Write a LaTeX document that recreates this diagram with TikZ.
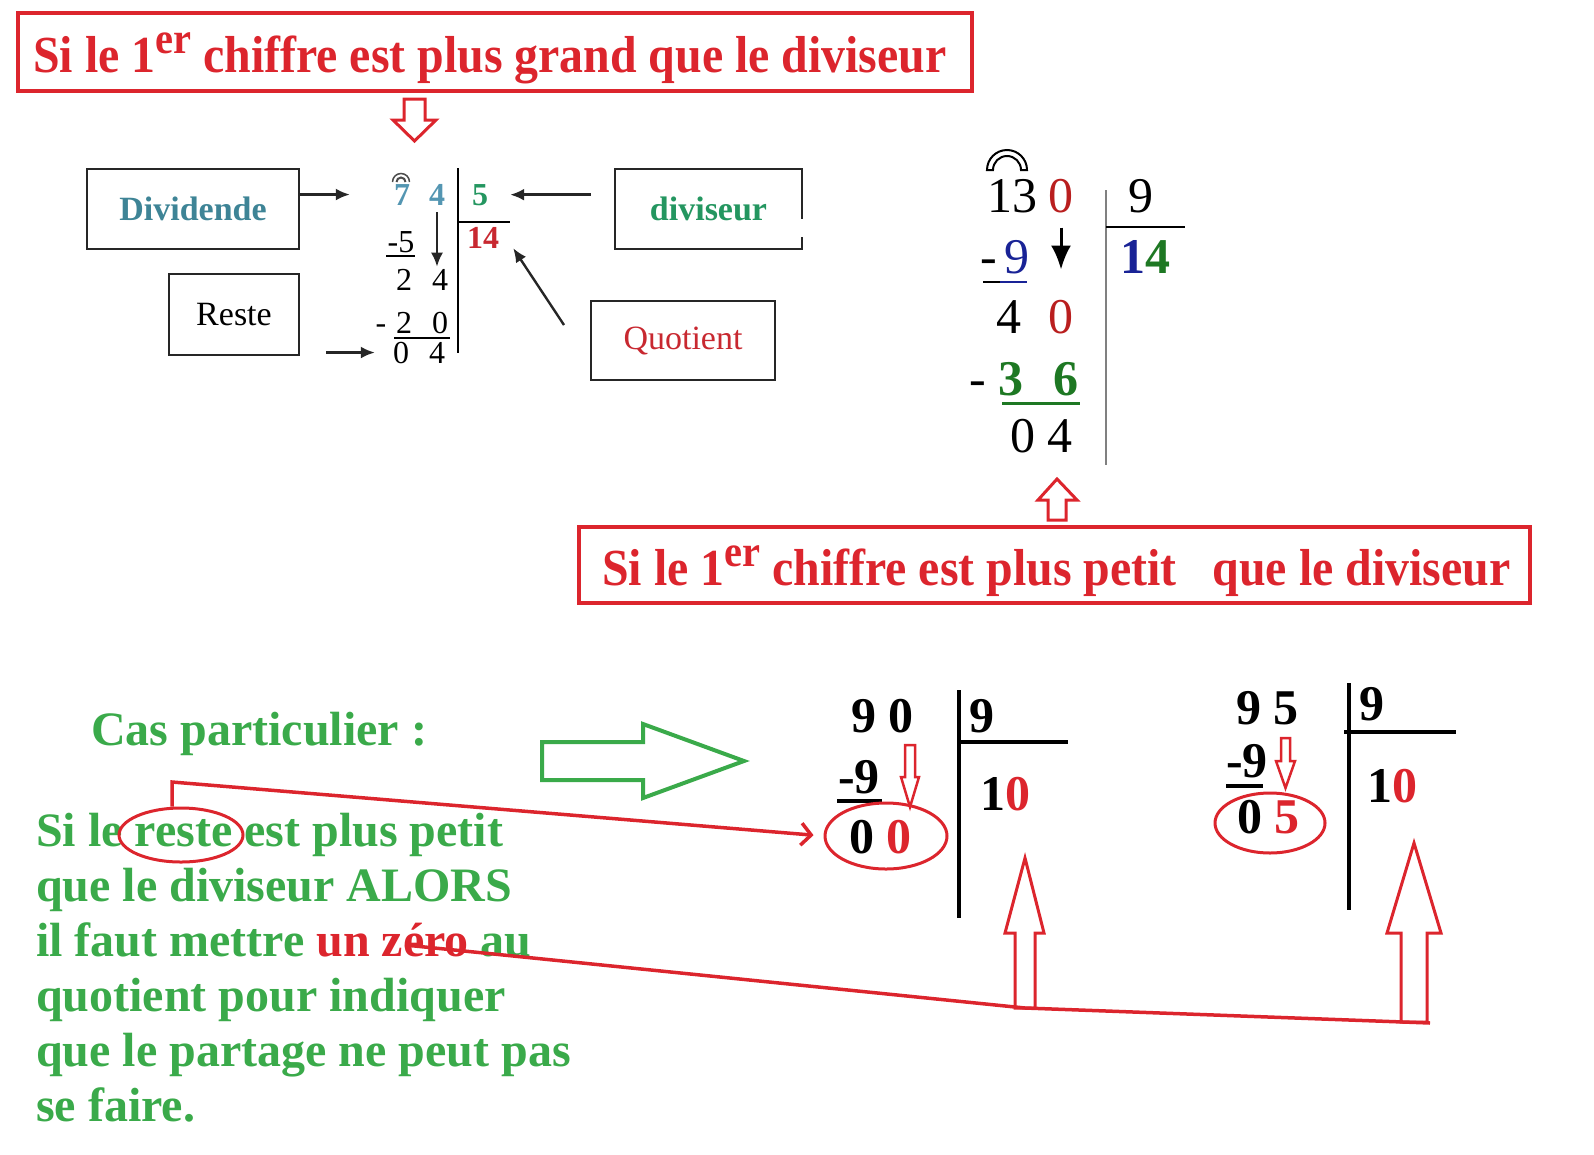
\documentclass[tikz,border=0pt]{standalone}
\usepackage{fontspec}
\setmainfont{Liberation Serif}
\newfontfamily\headfont[FakeStretch=0.92]{Liberation Serif}
\usepackage{xcolor}
\usepackage{tikz}
\usetikzlibrary{shapes,arrows,arrows.meta,positioning}

\definecolor{alertred}{RGB}{220,37,45}
\definecolor{casgreen}{RGB}{58,170,74}
\definecolor{dividteal}{RGB}{62,132,150}
\definecolor{digitteal}{RGB}{84,150,178}
\definecolor{divgreen}{RGB}{36,150,96}
\definecolor{quotred}{RGB}{200,40,48}
\definecolor{darkblue}{RGB}{25,35,150}
\definecolor{darkgreen}{RGB}{30,120,35}
\definecolor{darkred}{RGB}{185,30,30}
\definecolor{bargray}{RGB}{128,128,128}

\begin{document}
\begin{tikzpicture}[
    x=1pt, y=-1pt,
    redframe/.style={draw=alertred, line width=4pt, inner sep=0pt},
    headtext/.style={anchor=base west, inner sep=0pt, text=alertred,
        font=\headfont\fontsize{52}{52}\selectfont\bfseries},
    labelbox/.style={draw=black!85, line width=2.2pt, inner sep=0pt,
        font=\fontsize{34}{34}\selectfont},
    smalldigit/.style={anchor=base, inner sep=0pt, font=\fontsize{32}{32}\selectfont},
    middigit/.style={anchor=base, inner sep=0pt, font=\fontsize{50}{50}\selectfont},
    bolddigit/.style={anchor=base west, inner sep=0pt, font=\fontsize{50}{50}\selectfont\bfseries},
    casline/.style={anchor=base west, inner sep=0pt, text=casgreen,
        font=\fontsize{48}{55}\selectfont\bfseries},
    thinarrow/.style={-{Latex[length=14pt,width=12pt]}, line width=2.4pt, draw=black!85},
    hollowred/.style={draw=alertred, line width=3pt},
    redline/.style={draw=alertred, line width=3.5pt},
    ]
    \useasboundingbox (0,0) rectangle (1594,1154);

    % headers
    \node[redframe, minimum width=954, minimum height=78] (topframe) at (495,52) {};
    \node[headtext] (toptext) at (33,72)
        {Si le 1\raisebox{19pt}{\fontsize{44}{44}\selectfont er} chiffre est plus grand que le diviseur};
    \draw[hollowred] (404,99) -- (425,99) -- (425,120) -- (436,120) -- (414.5,141)
        -- (393,120) -- (404,120) -- cycle;

    \node[redframe, minimum width=951, minimum height=76] (lowframe) at (1054.5,565) {};
    \node[headtext] (lowtext) at (602,585)
        {Si le 1\raisebox{19pt}{\fontsize{44}{44}\selectfont er} chiffre est plus petit\hspace{24pt} que le diviseur};
    \draw[hollowred] (1048,520) -- (1066,520) -- (1066,500) -- (1077,500) -- (1057,479)
        -- (1038,500) -- (1048,500) -- cycle;

    % labelled boxes
    \node[labelbox, minimum width=212, minimum height=80, text=dividteal,
        font=\fontsize{34}{34}\selectfont\bfseries] (dividbox) at (193,209) {Dividende};
    \node[labelbox, minimum width=130, minimum height=81] (restebox) at (234,314.5) {Reste};
    \node[labelbox, minimum width=187, minimum height=80, text=divgreen,
        font=\fontsize{34}{34}\selectfont\bfseries] (divisbox) at (708.5,209) {diviseur};
    \draw[white, line width=4pt] ([yshift=-10pt]divisbox.east) -- ([yshift=-28pt]divisbox.east);
    \node[labelbox, minimum width=184, minimum height=79, text=quotred] (quotbox) at (683,340.5) {Quotient};

    % 74 : 5
    \node[smalldigit, text=digitteal, font=\fontsize{32}{32}\selectfont\bfseries] (tlseven) at (402,205) {7};
    \node[smalldigit, text=digitteal, font=\fontsize{32}{32}\selectfont\bfseries] (tlfour) at (437,205) {4};
    \node[smalldigit, text=divgreen, font=\fontsize{32}{32}\selectfont\bfseries] (tlfive) at (480,205) {5};
    \node[smalldigit, text=quotred, font=\fontsize{32}{32}\selectfont\bfseries] (tlquot) at (483,248) {14};
    \node[smalldigit] (tlminusfive) at (401,252) {-5};
    \node[smalldigit] (tltwo) at (404,290) {2};
    \node[smalldigit] (tltwofour) at (440,290) {4};
    \node[smalldigit] (tlminus) at (381,333) {-};
    \node[smalldigit] (tltwob) at (404,333) {2};
    \node[smalldigit] (tlzero) at (440,333) {0};
    \node[smalldigit] (tlremzero) at (401,363) {0};
    \node[smalldigit] (tlremfour) at (437,363) {4};

    \draw[line width=1.5pt, black!70] (392.5,182) arc[start angle=180, end angle=0, radius=8.5pt];
    \draw[line width=2pt, black!70] (396.5,182) arc[start angle=180, end angle=0, radius=4.5pt];
    \draw[line width=2pt] (458,168) -- (458,353);
    \draw[line width=2pt] (458,222) -- (510,222);
    \draw[line width=1.8pt] (386,256) -- (415,256);
    \draw[line width=2.2pt] (394,338) -- (450,338);

    \draw[thinarrow] (dividbox.east |- tlseven.west) -- (tlseven.west) [shorten >=44pt];
    \draw[thinarrow, shorten <=26pt, shorten >=18pt] (restebox.south east |- tlremzero.west) -- (tlremzero.west);
    \draw[thinarrow, shorten <=23pt, shorten >=22pt] (divisbox.west |- tlfive.east) -- (tlfive.east);
    \coordinate (quottail) at (564,325);
    \draw[thinarrow] (quottail) -- ([xshift=14pt]tlquot.south east);
    \draw[thinarrow, shorten <=7pt, shorten >=2pt] (tlfour.south) -- (tlfour.south |- tltwofour.north);

    % 130 : 9
    \draw[line width=2pt] (987,170) arc[start angle=180, end angle=0, radius=20pt]
        -- ++(-6,0) arc[start angle=0, end angle=180, radius=14pt] -- cycle;
    \node[middigit] (rtthirteen) at (1012,212) {13};
    \node[middigit, text=darkred] (rtzero) at (1061,212) {0};
    \node[middigit] (rtnine) at (1141,212) {9};
    \node[middigit, font=\fontsize{50}{50}\selectfont\bfseries] (rtquot) at (1145,273)
        {\textcolor{darkblue}{1}\textcolor{darkgreen}{4}};
    \node[middigit] (rtminus) at (989,273) {-};
    \node[middigit, text=darkblue] (rtnineb) at (1017,273) {9};
    \node[middigit] (rtfour) at (1009,333) {4};
    \node[middigit, text=darkred] (rtzerob) at (1061,333) {0};
    \node[middigit] (rtminusb) at (978,395) {-};
    \node[middigit, text=darkgreen, font=\fontsize{50}{50}\selectfont\bfseries] (rtthree) at (1011,395) {3};
    \node[middigit, text=darkgreen, font=\fontsize{50}{50}\selectfont\bfseries] (rtsix) at (1066,395) {6};
    \node[middigit, anchor=base west] (rtrem) at (1010,452) {0 4};

    \draw[line width=2.5pt, bargray] (1106,190) -- (1106,465);
    \draw[line width=2pt] (1106,227) -- (1185,227);
    \draw[line width=2.5pt] (983,282) -- (1000,282);
    \draw[line width=2.5pt, darkblue] (1000,282) -- (1027,282);
    \draw[line width=3pt, darkgreen] (1002,403) -- (1080,403);
    \draw[-{Latex[length=24pt,width=20pt]}, line width=3pt, shorten <=15pt, shorten >=30pt]
        (rtzero.south) -- (rtzero.south |- rtzerob.north);

    % cas particulier
    \node[casline] (castitle) at (91,745) {Cas particulier :};
    \draw[draw=casgreen, line width=4pt] (542,742) -- (643,742) -- (643,724) -- (744,761)
        -- (643,798) -- (643,780) -- (542,780) -- cycle;

    \node[casline] (caslinea) at (36,846) {Si le reste est plus petit};
    \node[casline] (caslineb) at (36,901) {que le diviseur ALORS};
    \node[casline] (caslinec) at (36,956) {il faut mettre \textcolor{alertred}{un zéro} au};
    \node[casline] (caslined) at (36,1011) {quotient pour indiquer};
    \node[casline] (caslinee) at (36,1066) {que le partage ne peut pas};
    \node[casline] (caslinef) at (36,1121) {se faire.};

    % 90 : 9
    \node[bolddigit] (ltop) at (851,732) {9 0};
    \node[bolddigit] (ldivisor) at (969,732) {9};
    \node[bolddigit] (lminus) at (838,793) {-9};
    \node[bolddigit] (lrem) at (849,853) {0 \textcolor{alertred}{0}};
    \node[bolddigit] (lquot) at (980,810) {1\textcolor{alertred}{0}};
    \draw[line width=4pt] (959,690) -- (959,918);
    \draw[line width=4pt] (957,742) -- (1068,742);
    \draw[line width=4pt] (837,801) -- (882,801);
    \draw[hollowred, line width=2.5pt] (905,745) -- (915,745) -- (915,777) -- (919,777) -- (910,807)
        -- (901,777) -- (905,777) -- cycle;
    \node[ellipse, draw=alertred, line width=3pt, minimum width=122, minimum height=66] (zeroval) at (886,836) {};
    \draw[hollowred] (1015,1008) -- (1015,933) -- (1005,933) -- (1025,858) -- (1044,933)
        -- (1035,933) -- (1035,1008) -- cycle;

    % 95 : 9
    \node[bolddigit] (rtop) at (1236,724) {9 5};
    \node[bolddigit] (rdivisor) at (1359,720) {9};
    \node[bolddigit] (rminus) at (1226,777) {-9};
    \node[bolddigit] (rrem) at (1237,833) {0 \textcolor{alertred}{5}};
    \node[bolddigit] (rquot) at (1367,802) {1\textcolor{alertred}{0}};
    \draw[line width=4pt] (1349,683) -- (1349,910);
    \draw[line width=4pt] (1344,732) -- (1456,732);
    \draw[line width=4pt] (1226,786) -- (1263,786);
    \draw[hollowred, line width=2.5pt] (1281,738) -- (1290,738) -- (1290,761) -- (1295,761) -- (1285.5,788)
        -- (1276,761) -- (1281,761) -- cycle;
    \node[ellipse, draw=alertred, line width=3pt, minimum width=110, minimum height=60] (fiveval) at (1270,823) {};
    \draw[hollowred] (1401,1022) -- (1401,933) -- (1387,933) -- (1414,843) -- (1441,933)
        -- (1427,933) -- (1427,1022) -- cycle;

    % red links
    \node[ellipse, draw=alertred, line width=3pt, minimum width=124, minimum height=54] (resteoval) at (181,835) {};
    \coordinate (restebend) at (172,782);
    \draw[redline, -{Straight Barb[length=10pt,width=22pt]}, shorten >=10pt]
        ([xshift=-9pt]resteoval.north) -- (restebend) -- (zeroval.west);
    \coordinate (zerostart) at (405,945);
    \coordinate (leftfoot) at (1025,1008);
    \coordinate (rightfoot) at (1430,1023);
    \draw[redline] (zerostart) -- (leftfoot) -- (rightfoot);
\end{tikzpicture}
\end{document}
